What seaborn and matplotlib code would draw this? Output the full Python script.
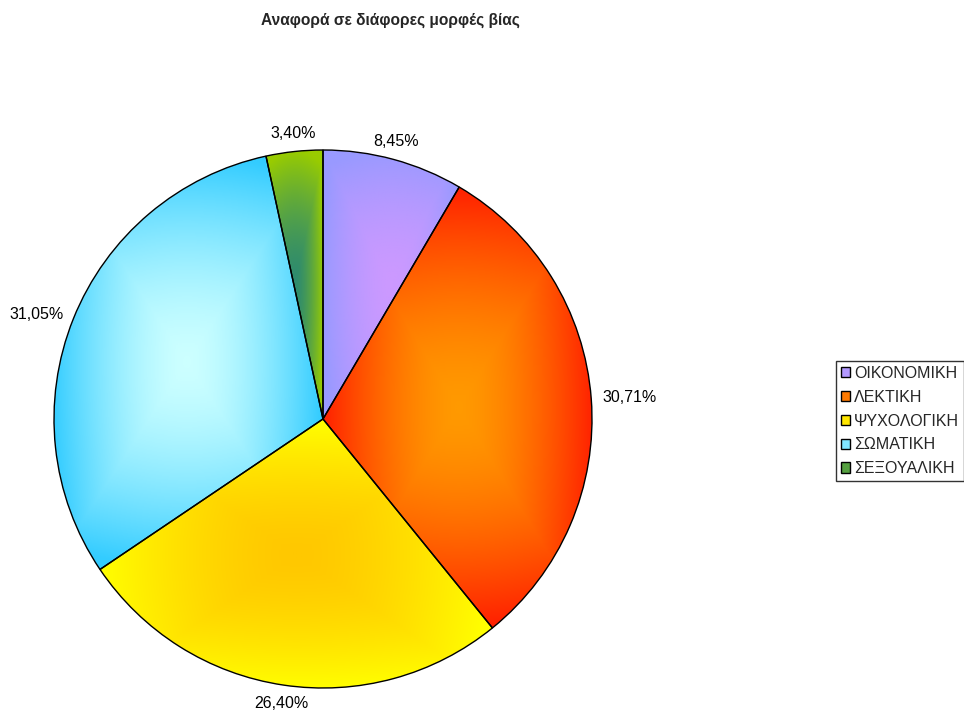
import numpy as np
import matplotlib
matplotlib.use("Agg")
import matplotlib.pyplot as plt
from matplotlib.colors import LinearSegmentedColormap
from matplotlib.patches import Patch
import seaborn as sns

sns.set_theme(style="white")
plt.rcParams['font.family'] = ['Liberation Sans', 'DejaVu Sans']

title = "Αναφορά σε διάφορες μορφές βίας"
categories = ["ΟΙΚΟΝΟΜΙΚΗ", "ΛΕΚΤΙΚΗ", "ΨΥΧΟΛΟΓΙΚΗ", "ΣΩΜΑΤΙΚΗ", "ΣΕΞΟΥΑΛΙΚΗ"]
values = [8.45, 30.71, 26.40, 31.05, 3.40]
edge_colors = ["#9999FF", "#FF2000", "#FFFF00", "#33CCFF", "#99CC00"]
center_colors = ["#CC99FF", "#FF9900", "#FFC800", "#CCFFFF", "#2E8B6E"]
legend_colors = ["#B399FF", "#FF7A00", "#FFE600", "#80E5FF", "#55A040"]

fig = plt.figure(figsize=(9.64, 7.22), dpi=100)
W, H = 964, 722
cx, cy, R = 323, 419, 269
ax = fig.add_axes([(cx - R) / W, (H - cy - R) / H, 2 * R / W, 2 * R / H])

wedges, _ = ax.pie(values, startangle=90, counterclock=False, radius=1,
                   colors=edge_colors,
                   wedgeprops=dict(edgecolor="black", linewidth=1.0))

for w, c0, c1 in zip(wedges, center_colors, edge_colors):
    verts = w.get_path().vertices
    x0, y0 = verts.min(axis=0)
    x1, y1 = verts.max(axis=0)
    xs = np.linspace(-1, 1, 300)
    ys = np.linspace(-1, 1, 300)
    X, Y = np.meshgrid(xs, ys)
    t = np.clip(np.maximum(np.abs(X), np.abs(Y)) * 0.75 + 0.25 * np.sqrt(X ** 2 + Y ** 2), 0, 1) ** 1.6
    cmap = LinearSegmentedColormap.from_list("g", [c0, c1])
    im = ax.imshow(t, cmap=cmap, extent=[x0, x1, y0, y1], origin="lower",
                   vmin=0, vmax=1, zorder=2, interpolation="bilinear")
    im.set_clip_path(w)
    w.set_zorder(3)
    w.set_facecolor("none")

# labels
total = sum(values)
cum = 0
for v in values:
    mid = cum + v / 2
    cum += v
    ang = np.deg2rad(90 - mid / total * 360)
    c, s = np.cos(ang), np.sin(ang)
    r = 1.04
    ha = "left" if c > 0.3 else ("right" if c < -0.3 else "center")
    va = "bottom" if s > 0.5 else ("top" if s < -0.5 else "center")
    ax.text(r * c, r * s, f"{v:.2f}%".replace(".", ","), ha=ha, va=va,
            fontsize=11.5, color="black")

ax.set_xlim(-1, 1)
ax.set_ylim(-1, 1)
ax.set_aspect("equal")
ax.axis("off")

fig.text(390 / W, 1 - 20 / H, title, ha="center", va="center",
         fontsize=11.2, fontweight="bold")

handles = [Patch(facecolor=col, edgecolor="black", linewidth=1.0, label=cat)
           for cat, col in zip(categories, legend_colors)]
leg = fig.legend(handles=handles, loc="center left",
                 bbox_to_anchor=(836 / W, 1 - 421 / H), frameon=True,
                 fancybox=False, fontsize=11.5, handlelength=0.6,
                 handleheight=0.6, handletextpad=0.25, labelspacing=0.55,
                 borderpad=0.3, borderaxespad=0)
leg.get_frame().set_edgecolor("black")
leg.get_frame().set_linewidth(1.0)

fig.savefig("out.png", dpi=100, facecolor="white")
